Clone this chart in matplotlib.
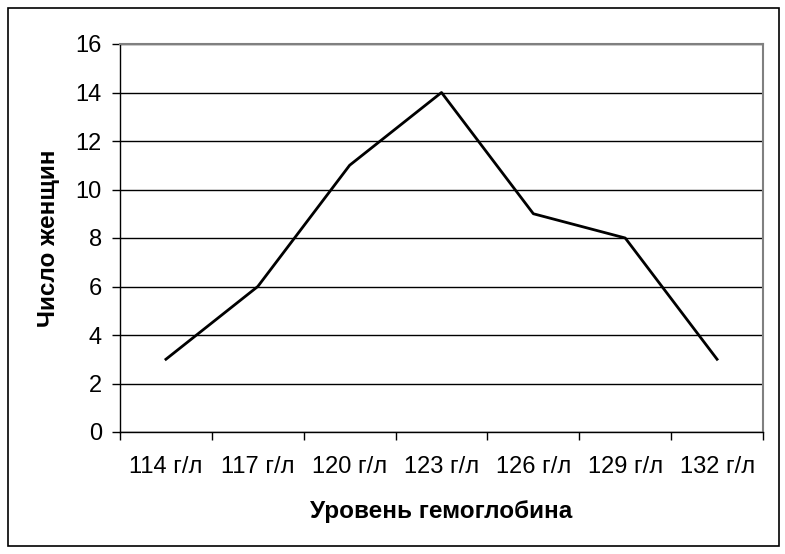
import matplotlib

matplotlib.use("Agg")
import matplotlib.pyplot as plt
from matplotlib.patches import Rectangle
import numpy as np

plt.rcParams["font.family"] = ["Liberation Sans", "DejaVu Sans"]

categories = ["114 г/л", "117 г/л", "120 г/л", "123 г/л", "126 г/л", "129 г/л", "132 г/л"]
counts = [3, 6, 11, 14, 9, 8, 3]
y_ticks = [0, 2, 4, 6, 8, 10, 12, 14, 16]

fig = plt.figure(figsize=(7.85, 5.54), dpi=100)
ax = fig.add_axes([120 / 785, 122 / 554, 643 / 785, 388 / 554])

# outer frame around the whole chart
fig.patches.append(
    Rectangle((8 / 785, 8 / 554), 771 / 785, 538 / 554, transform=fig.transFigure,
              fill=False, edgecolor="black", linewidth=1.2)
)

x = np.arange(len(categories))
ax.plot(x, counts, color="black", linewidth=2, zorder=5)

ax.set_xlim(-0.5, len(categories) - 0.5)
ax.set_ylim(0, 16)
ax.set_yticks(y_ticks)
ax.yaxis.grid(True, color="black", linewidth=1)
ax.set_axisbelow(True)

ax.set_xticks(x)
ax.set_xticklabels(categories, fontsize=17)
ax.set_xticks(np.arange(len(categories) + 1) - 0.5, minor=True)
ax.tick_params(axis="x", which="major", length=0, pad=17)
ax.tick_params(axis="x", which="minor", length=6, direction="out", width=1)
ax.tick_params(axis="y", labelsize=17, length=6, direction="out", width=1, pad=7)

ax.spines["top"].set_color("#808080")
ax.spines["right"].set_color("#808080")
ax.spines["top"].set_linewidth(1.5)
ax.spines["right"].set_linewidth(1.5)
ax.spines["left"].set_linewidth(1)
ax.spines["bottom"].set_linewidth(1)

ax.set_xlabel("Уровень гемоглобина", fontsize=17.5, fontweight="bold", labelpad=16)
ax.set_ylabel("Число женщин", fontsize=17.5, fontweight="bold", labelpad=11)

fig.savefig("out.png", dpi=100)
